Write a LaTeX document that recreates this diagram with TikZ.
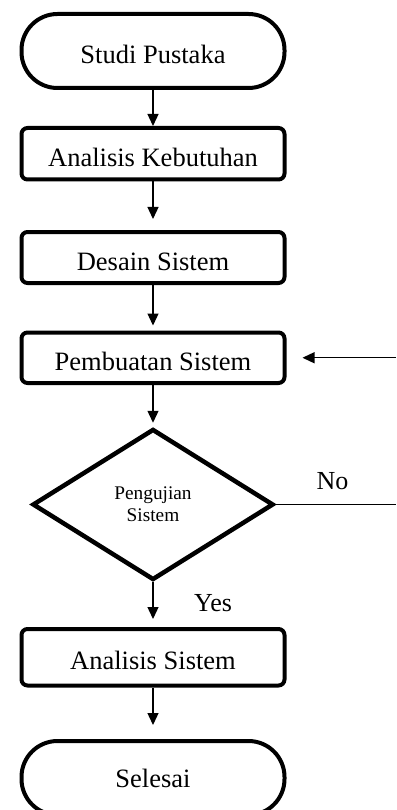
\documentclass[tikz,border=0pt]{standalone}
\usepackage{fontspec}
\setmainfont{Liberation Serif}
\usetikzlibrary{shapes.geometric,arrows.meta}
\begin{document}
\begin{tikzpicture}[x=1pt,y=-1pt,
  term/.style={draw,line width=4pt,rounded corners=36pt,minimum width=263pt,minimum height=74pt,inner sep=0pt,font=\fontsize{26.5}{30}\selectfont},
  proc/.style={draw,line width=4pt,rounded corners=6pt,minimum width=263pt,inner sep=0pt,text height=25pt,text depth=0pt,font=\fontsize{26.5}{30}\selectfont},
  dec/.style={draw,diamond,line width=4.5pt,minimum width=241pt,minimum height=151pt,inner sep=0pt,align=center,font=\fontsize{19.3}{22}\selectfont},
  conn/.style={line width=1.3pt,-{Triangle[length=12pt,width=11pt]}},
  plain/.style={line width=1.2pt},
  lab/.style={font=\fontsize{26}{30}\selectfont,inner sep=0pt}
]
\useasboundingbox (0,0) rectangle (396,810);
\node[term,text height=25pt,text depth=0pt] (studi) at (153,51) {Studi Pustaka};
\node[proc,minimum height=51.5pt] (ak) at (153,153.75) {Analisis Kebutuhan};
\node[proc,minimum height=51pt] (ds) at (153,257.5) {Desain Sistem};
\node[proc,minimum height=50.5pt] (pb) at (153,357.75) {Pembuatan Sistem};
\node[dec] (uji) at (153,504.5) {Pengujian\\Sistem};
\node[proc,minimum height=56.5pt] (as) at (153,657.25) {Analisis Sistem};
\node[term] (sel) at (153,778) {Selesai};
\node[lab] (no) at (332.5,481) {No};
\node[lab] (yes) at (213,603) {Yes};
\coordinate (noend) at (396,504.5);
\coordinate (back) at (396,357.75);
\draw[conn] (studi.south) -- (ak.north);
\draw[conn,shorten >=11pt] (ak.south) -- (ds.north);
\draw[conn,shorten >=5pt] (ds.south) -- (pb.north);
\draw[conn,shorten >=4pt] (pb.south) -- (uji.north);
\draw[conn,shorten >=8pt] (uji.south) -- (as.north);
\draw[conn,shorten >=14pt] (as.south) -- (sel.north);
\draw[plain] (uji.east) -- (noend);
\draw[conn,shorten >=16pt] (back) -- (pb.east);
\end{tikzpicture}
\end{document}
